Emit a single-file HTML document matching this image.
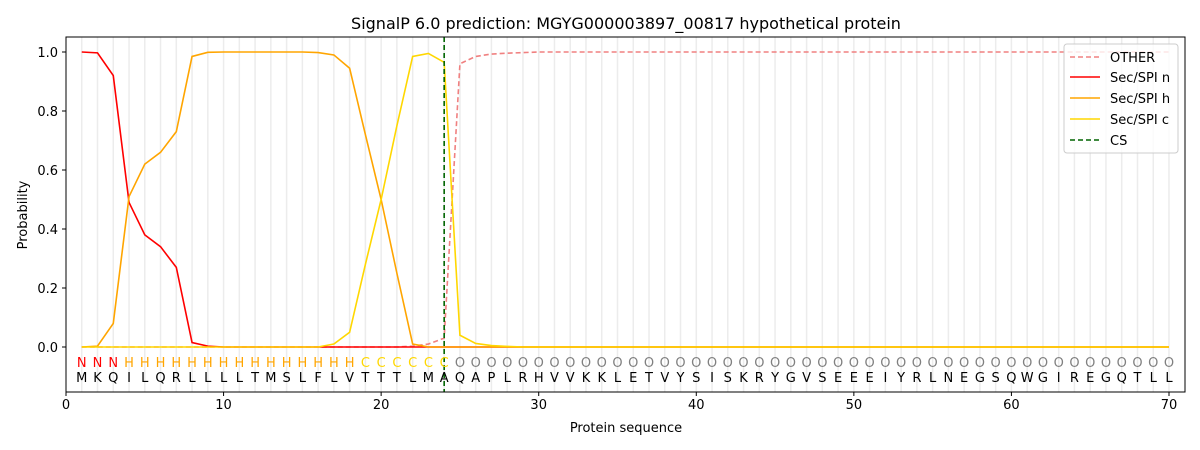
<!DOCTYPE html>
<html><head><meta charset="utf-8"><style>
body{margin:0;background:#fff}
svg{display:block;font-family:"DejaVu Sans","Liberation Sans",sans-serif}
</style></head><body>
<svg id="s" width="1200" height="450" viewBox="0 0 1200 450" xmlns="http://www.w3.org/2000/svg">
<rect width="1200" height="450" fill="#fff"/>
<g id="grid"></g>
<g id="lines"></g>
<line x1="444.17" y1="37" x2="444.17" y2="392" stroke="#006400" stroke-width="1.6" stroke-dasharray="5,3"/>
<rect x="66" y="37" width="1119" height="355" fill="none" stroke="#000" stroke-width="1"/>
<g id="ticks" font-size="13"></g>
<text x="626" y="29" font-size="16" text-anchor="middle">SignalP 6.0 prediction: MGYG000003897_00817 hypothetical protein</text>
<text x="626" y="432" font-size="13" text-anchor="middle">Protein sequence</text>
<text x="27" y="215" font-size="13" text-anchor="middle" transform="rotate(-90 27 215)">Probability</text>
<g font-size="13" text-anchor="middle">
<text y="367" fill="#ff0000" x="81.76 97.51 113.27">NNN</text>
<text y="367" fill="#ffa500" x="129.03 144.79 160.54 176.30 192.06 207.81 223.57 239.33 255.08 270.84 286.60 302.36 318.11 333.87 349.63">HHHHHHHHHHHHHHH</text>
<text y="367" fill="#ffd700" x="365.38 381.14 396.90 412.65 428.41 444.17">CCCCCC</text>
<text y="367" fill="#808080" x="459.93 475.68 491.44 507.20 522.95 538.71 554.47 570.22 585.98 601.74 617.50 633.25 649.01 664.77 680.52 696.28 712.04 727.79 743.55 759.31 775.07 790.82 806.58 822.34 838.09 853.85 869.61 885.36 901.12 916.88 932.64 948.39 964.15 979.91 995.66 1011.42 1027.18 1042.93 1058.69 1074.45 1090.21 1105.96 1121.72 1137.48 1153.23 1168.99">OOOOOOOOOOOOOOOOOOOOOOOOOOOOOOOOOOOOOOOOOOOOOO</text>
<text y="382" fill="#000" x="81.76 97.51 113.27 129.03 144.79 160.54 176.30 192.06 207.81 223.57 239.33 255.08 270.84 286.60 302.36 318.11 333.87 349.63 365.38 381.14 396.90 412.65 428.41 444.17 459.93 475.68 491.44 507.20 522.95 538.71 554.47 570.22 585.98 601.74 617.50 633.25 649.01 664.77 680.52 696.28 712.04 727.79 743.55 759.31 775.07 790.82 806.58 822.34 838.09 853.85 869.61 885.36 901.12 916.88 932.64 948.39 964.15 979.91 995.66 1011.42 1027.18 1042.93 1058.69 1074.45 1090.21 1105.96 1121.72 1137.48 1153.23 1168.99">MKQILQRLLLLTMSLFLVTTTLMAQAPLRHVVKKLETVYSISKRYGVSEEEIYRLNEGSQWGIREGQTLL</text>
</g>
<g font-size="13">
<rect x="1064" y="44" width="114" height="109" rx="3" fill="#fff" fill-opacity="0.8" stroke="#ccc"/>
<line x1="1070" y1="57" x2="1100" y2="57" stroke="#f08080" stroke-width="1.6" stroke-dasharray="5,3"/>
<text x="1110" y="62">OTHER</text>
<line x1="1070" y1="77" x2="1100" y2="77" stroke="#ff0000" stroke-width="1.6"/>
<text x="1110" y="82">Sec/SPI n</text>
<line x1="1070" y1="98" x2="1100" y2="98" stroke="#ffa500" stroke-width="1.6"/>
<text x="1110" y="103">Sec/SPI h</text>
<line x1="1070" y1="119" x2="1100" y2="119" stroke="#ffd700" stroke-width="1.6"/>
<text x="1110" y="124">Sec/SPI c</text>
<line x1="1070" y1="140" x2="1100" y2="140" stroke="#006400" stroke-width="1.6" stroke-dasharray="5,3"/>
<text x="1110" y="145">CS</text>
</g>
<g font-size="13" text-anchor="middle">
<text x="66" y="409">0</text><text x="223.57" y="409">10</text><text x="381.14" y="409">20</text><text x="538.71" y="409">30</text><text x="696.28" y="409">40</text><text x="853.85" y="409">50</text><text x="1011.42" y="409">60</text><text x="1168.99" y="409">70</text>
</g>
<g font-size="13" text-anchor="end">
<text x="58" y="352">0.0</text><text x="58" y="293">0.2</text><text x="58" y="234">0.4</text><text x="58" y="175">0.6</text><text x="58" y="116">0.8</text><text x="58" y="57">1.0</text>
</g>
</svg>
<script>
const X=i=>66+15.757*i, Y=v=>347-295*v, NS="http://www.w3.org/2000/svg";
const g=document.getElementById('grid'),L=document.getElementById('lines'),T=document.getElementById('ticks');
function el(p,t,a){const e=document.createElementNS(NS,t);for(const k in a)e.setAttribute(k,a[k]);p.appendChild(e);}
for(let i=1;i<=70;i++)el(g,'line',{x1:X(i),x2:X(i),y1:37,y2:392,stroke:'#ececec','stroke-width':1.5});
for(let k=0;k<=7;k++)el(T,'line',{x1:X(k*10),x2:X(k*10),y1:392,y2:396,stroke:'#000'});
for(let k=0;k<=5;k++)el(T,'line',{x1:62,x2:66,y1:Y(k*0.2),y2:Y(k*0.2),stroke:'#000'});
function arr(m){const a=[];for(let i=1;i<=70;i++)a.push(m[i]!==undefined?m[i]:m.d(i));return a;}
const n=arr({1:1,2:.997,3:.92,4:.49,5:.38,6:.34,7:.27,8:.015,9:.003,d:()=>0});
const h=arr({1:0,2:.003,3:.08,4:.51,5:.62,6:.66,7:.73,8:.985,9:.999,16:.998,17:.99,18:.945,19:.72,20:.5,21:.25,22:.01,d:i=>i<16?1:0});
const c=arr({17:.01,18:.05,19:.28,20:.5,21:.75,22:.985,23:.995,24:.965,25:.04,26:.012,27:.005,28:.002,d:()=>0});
const o=arr({22:.003,23:.01,24:.03,25:.96,26:.985,27:.993,28:.996,29:.998,d:i=>i<22?0:1});
function path(a,col,dash){el(L,'polyline',{points:a.map((v,i)=>X(i+1)+','+Y(v)).join(' '),fill:'none',stroke:col,'stroke-width':1.6,'stroke-dasharray':dash||'none'});}
path(o,'#f08080','5,3');path(n,'#ff0000');path(h,'#ffa500');path(c,'#ffd700');
</script>
</body></html>
